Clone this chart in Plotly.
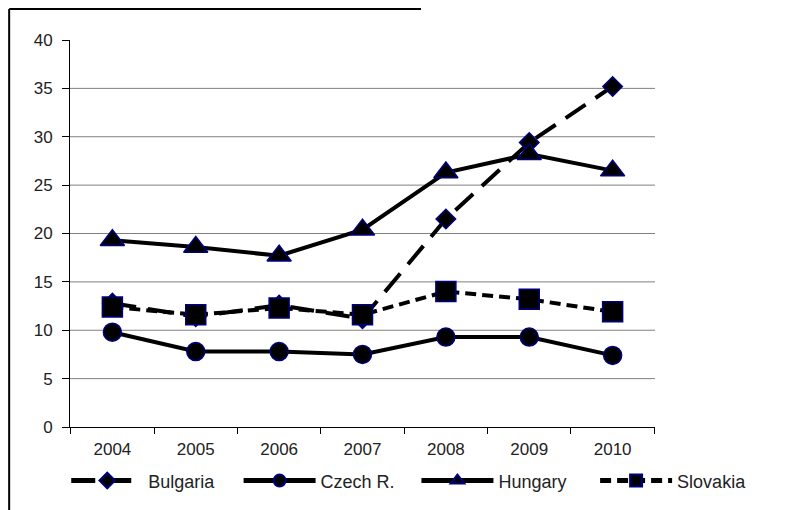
import plotly.graph_objects as go

years = ["2004", "2005", "2006", "2007", "2008", "2009", "2010"]

bulgaria = [12.8, 11.4, 12.6, 11.2, 21.5, 29.4, 35.2]
czech = [9.8, 7.8, 7.8, 7.5, 9.3, 9.3, 7.4]
hungary = [19.3, 18.6, 17.7, 20.4, 26.3, 28.2, 26.5]
slovakia = [12.4, 11.6, 12.3, 11.6, 14.0, 13.2, 11.9]

y_ticks = [0, 5, 10, 15, 20, 25, 30, 35, 40]
grid_levels = [5, 10, 15, 20, 25, 30, 35]

FONT = "Liberation Sans, Arial, sans-serif"
EDGE = {"color": "#000080", "width": 1.5}

# name, values, marker, marker size, dash, legend id, legend x
series = [
    ("Bulgaria", bulgaria, "diamond", 15, "24px,12px", "legend", 0.074),
    ("Czech R.", czech, "circle", 18, "solid", "legend2", 0.293),
    ("Hungary", hungary, "triangle-up", 21, "solid", "legend3", 0.519),
    ("Slovakia", slovakia, "square", 20, "11px,6px", "legend4", 0.746),
]

fig = go.Figure()
legends = {}
for name, values, symbol, size, dash, leg, lx in series:
    fig.add_trace(
        go.Scatter(
            x=years,
            y=values,
            name=name,
            mode="lines+markers",
            line={"color": "black", "width": 4, "dash": dash},
            marker={"symbol": symbol, "size": size, "color": "black", "line": EDGE},
            legend=leg,
        )
    )
    legends[leg] = {
        "orientation": "h",
        "x": lx,
        "xref": "container",
        "xanchor": "left",
        "y": 0.058,
        "yref": "container",
        "yanchor": "middle",
        "itemwidth": 72,
        "itemsizing": "constant",
        "bgcolor": "rgba(0,0,0,0)",
        "font": {"size": 18, "color": "#222222"},
    }

for lvl in grid_levels:
    fig.add_hline(y=lvl, line={"color": "#808080", "width": 1}, layer="below")

# document frame around the chart
fig.add_shape(type="line", xref="paper", yref="paper", x0=-0.104, x1=-0.104, y0=-0.25, y1=1.08,
              line={"color": "black", "width": 2})
fig.add_shape(type="line", xref="paper", yref="paper", x0=-0.104, x1=0.6, y0=1.08, y1=1.08,
              line={"color": "black", "width": 2})

fig.update_layout(
    width=787,
    height=502,
    margin={"l": 62, "r": 140, "t": 32, "b": 83, "autoexpand": False},
    plot_bgcolor="white",
    paper_bgcolor="white",
    font={"family": FONT, "size": 17, "color": "#222222"},
    showlegend=True,
    **legends,
)
fig.update_xaxes(
    type="category",
    tickson="boundaries",
    ticks="outside",
    ticklen=6,
    tickcolor="black",
    ticklabelstandoff=7,
    showline=True,
    linecolor="black",
    linewidth=1,
    showgrid=False,
)
fig.update_yaxes(
    range=[0, 40],
    tickvals=y_ticks,
    ticks="outside",
    ticklen=7,
    tickcolor="black",
    ticklabelstandoff=6,
    showline=True,
    linecolor="black",
    linewidth=1,
    showgrid=False,
    zeroline=False,
)

fig.write_html("out.html")
